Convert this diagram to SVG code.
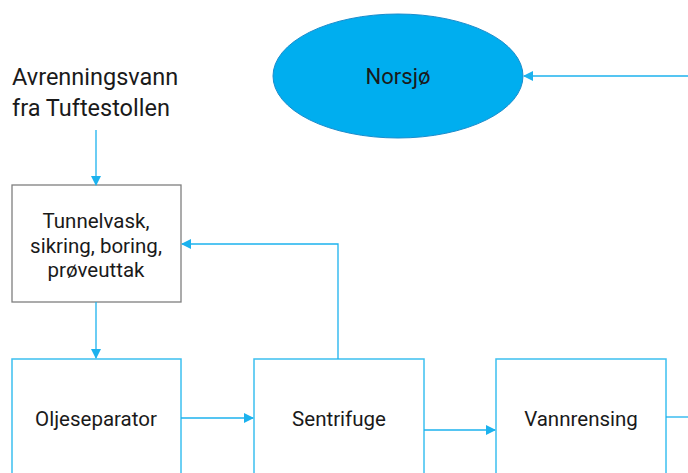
<svg xmlns="http://www.w3.org/2000/svg" width="688" height="473" viewBox="0 0 688 473">
<style>
text{font-family:Roboto,"Liberation Sans",sans-serif;fill:#1a1a1a}
.lbl{font-size:20.5px;text-anchor:middle}
.box{fill:#fff;stroke:#3cc0f0;stroke-width:1.5}
.con{fill:none;stroke:#1cb2ee;stroke-width:1.3}
</style>
<defs>
<marker id="ah" markerWidth="10" markerHeight="10" refX="9" refY="5" orient="auto" markerUnits="userSpaceOnUse">
<path d="M0,0 L10,5 L0,10 z" fill="#1cb2ee"/>
</marker>
</defs>
<g id="norsjo">
<ellipse cx="398" cy="76" rx="125" ry="62" fill="#00aeef" stroke="#1a8ccc" stroke-width="1"/>
<text x="398" y="84" class="lbl" style="font-size:22px">Norsjø</text>
</g>
<g id="avrenning">
<text x="12" y="85" style="font-size:23.5px">Avrenningsvann</text>
<text x="12" y="116" style="font-size:23.5px">fra Tuftestollen</text>
</g>
<g id="tunnel">
<rect x="12" y="185" width="169" height="117" fill="#fff" stroke="#7f7f7f" stroke-width="1.3"/>
<text x="96" y="228" class="lbl">Tunnelvask,</text>
<text x="96" y="253" class="lbl">sikring, boring,</text>
<text x="96" y="277" class="lbl">prøveuttak</text>
</g>
<g id="oljeseparator">
<rect x="12" y="359" width="169" height="130" class="box"/>
<text x="96" y="426" class="lbl">Oljeseparator</text>
</g>
<g id="sentrifuge">
<rect x="254" y="359" width="170" height="130" class="box"/>
<text x="339" y="426" class="lbl">Sentrifuge</text>
</g>
<g id="vannrensing">
<rect x="496" y="359" width="170" height="130" class="box"/>
<text x="581" y="426" class="lbl">Vannrensing</text>
</g>
<g id="connectors">
<line x1="96" y1="130" x2="96" y2="185" class="con" marker-end="url(#ah)"/>
<line x1="96" y1="302" x2="96" y2="358" class="con" marker-end="url(#ah)"/>
<polyline points="338,359 338,244 182,244" class="con" marker-end="url(#ah)"/>
<line x1="181" y1="418" x2="253" y2="418" class="con" marker-end="url(#ah)"/>
<line x1="424" y1="430" x2="495" y2="430" class="con" marker-end="url(#ah)"/>
<line x1="666" y1="417" x2="688" y2="417" class="con"/>
<line x1="688" y1="76" x2="524" y2="76" class="con" marker-end="url(#ah)"/>
</g>
</svg>
